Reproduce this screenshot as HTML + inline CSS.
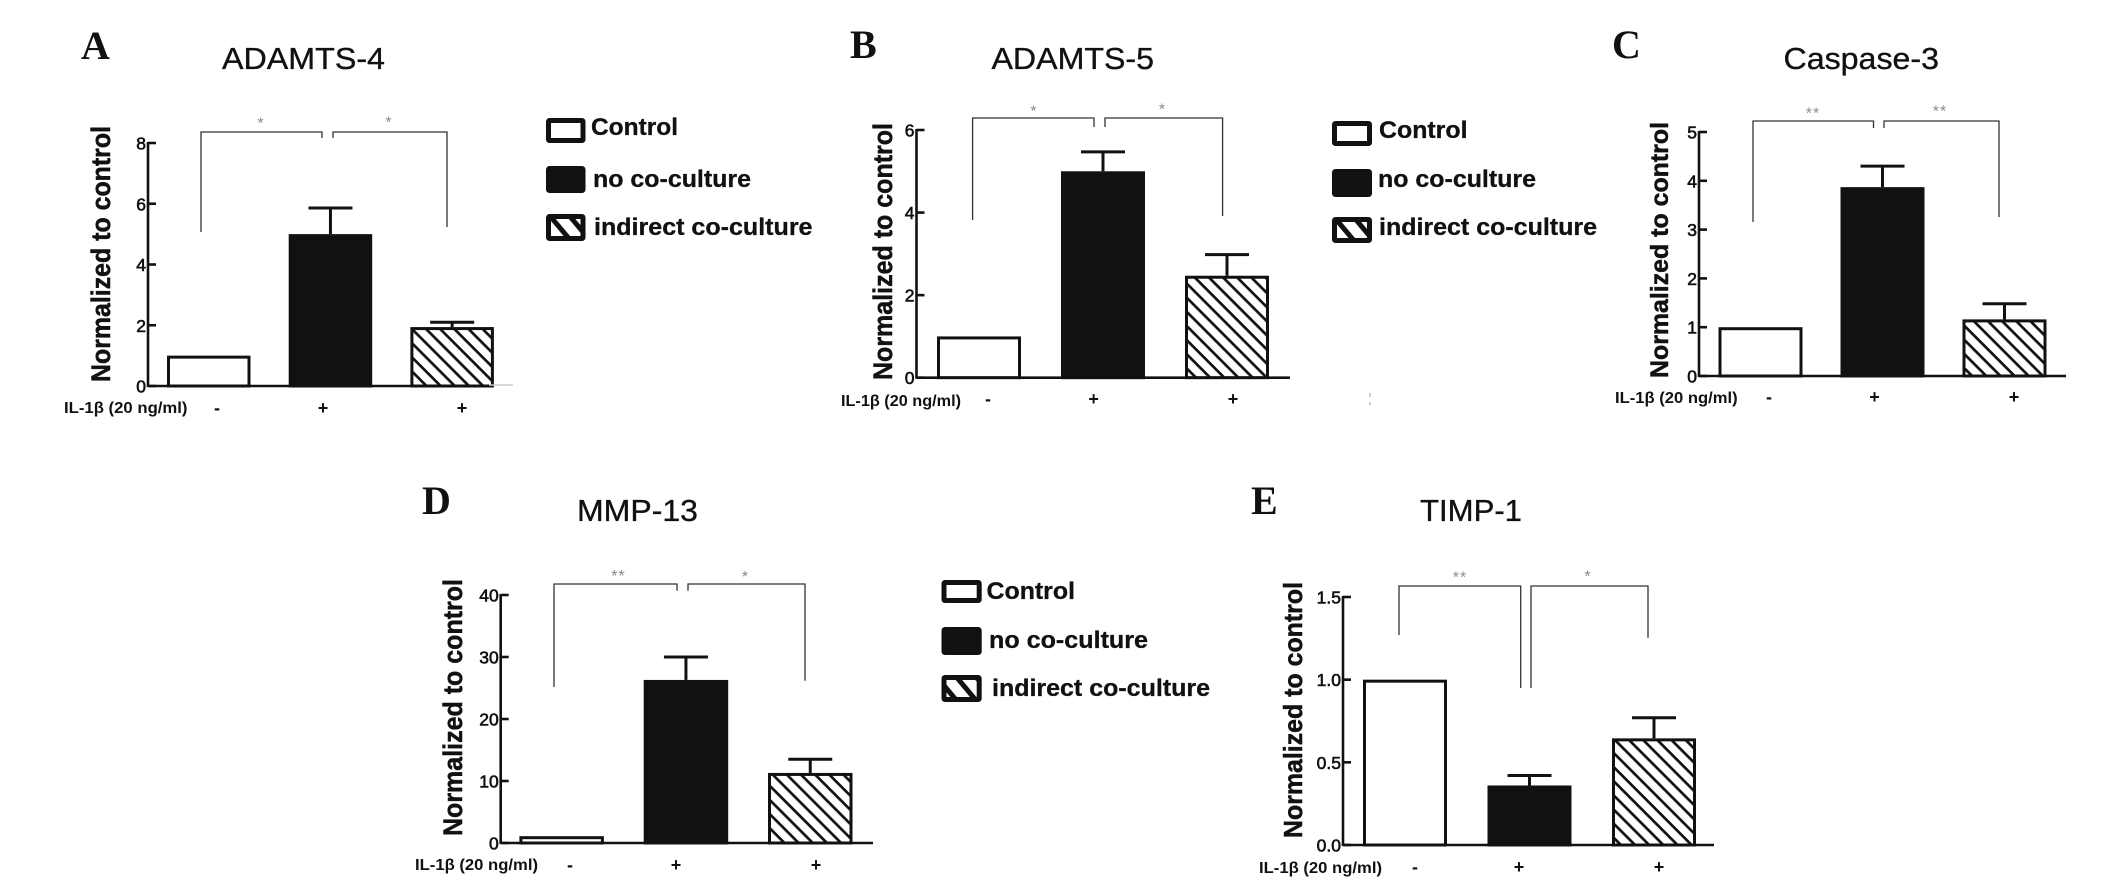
<!DOCTYPE html>
<html lang="en">
<head>
<meta charset="utf-8">
<title>Normalized expression bar charts</title>
<style>
html,body{margin:0;padding:0;background:#fff;}
body{width:2126px;height:889px;overflow:hidden;}
svg{display:block;filter:blur(0.35px);}
text{font-family:"Liberation Sans",sans-serif;fill:#111;}
</style>
</head>
<body>
<svg id="figure" xmlns="http://www.w3.org/2000/svg" width="2126" height="889" viewBox="0 0 2126 889">
<defs>
<pattern id="hatch" width="10" height="10" patternUnits="userSpaceOnUse" patternTransform="rotate(45)">
<rect width="10" height="10" fill="#fff"></rect>
<rect width="10" height="2.7" fill="#111"></rect>
</pattern>
<pattern id="hatch-legend" width="15" height="15" patternUnits="userSpaceOnUse" patternTransform="rotate(50)">
<rect width="15" height="15" fill="#fff"></rect>
<rect width="15" height="5" fill="#111"></rect>
</pattern>
</defs>
<rect width="2126" height="889" fill="#fff"></rect>
</svg>
<script>
// ---- chart data ----
const categories = ['Control', 'no co-culture', 'indirect co-culture'];
const signLabels = ['-', '+', '+'];
const doseLabel = 'IL-1β (20 ng/ml)';
const yAxisTitle = 'Normalized to control';

const adamts4Values = [1.0, 5.0, 1.94];
const adamts4Errors = [0, 0.86, 0.16];
const adamts4Ticks = ['0', '2', '4', '6', '8'];
const adamts4Sig = ['*', '*'];

const adamts5Values = [1.0, 5.0, 2.47];
const adamts5Errors = [0, 0.47, 0.51];
const adamts5Ticks = ['0', '2', '4', '6'];
const adamts5Sig = ['*', '*'];

const caspase3Values = [1.0, 3.87, 1.16];
const caspase3Errors = [0, 0.43, 0.32];
const caspase3Ticks = ['0', '1', '2', '3', '4', '5'];
const caspase3Sig = ['**', '**'];

const mmp13Values = [1.1, 26.3, 11.3];
const mmp13Errors = [0, 3.7, 2.2];
const mmp13Ticks = ['0', '10', '20', '30', '40'];
const mmp13Sig = ['**', '*'];

const timp1Values = [1.0, 0.36, 0.645];
const timp1Errors = [0, 0.06, 0.125];
const timp1Ticks = ['0.0', '0.5', '1.0', '1.5'];
const timp1Sig = ['**', '*'];

// ---- panel layout ----
const panels = [
  {id:'a', letter:'A', title:'ADAMTS-4', values:adamts4Values, errors:adamts4Errors, ticks:adamts4Ticks, sig:adamts4Sig,
   letterAt:{x:81, y:59}, titleBox:{x0:222, x1:385, y:69},
   axis:{x:148, yTop:143, y0:386, xEnd:489},
   band:{start:167, step:121.7, width:83.5},
   yTitle:{x:110, y0:382, y1:126, size:27},
   dose:{x0:64, x1:187.5, y:413}, signs:{x:[217,323,462], y:414},
   brackets:[{x0:201, x1:322, top:132, b0:232, b1:138, starX:261, starY:119},
             {x0:333, x1:447, top:132, b0:138, b1:227, starX:389, starY:118}],
   legend:{x0:546, x1:585.5, rows:[{y0:118,y1:143,tx0:591,tx1:678,base:135},{y0:166,y1:193,tx0:593,tx1:751,base:187},{y0:214,y1:241,tx0:594,tx1:812.5,base:235}]}},
  {id:'b', letter:'B', title:'ADAMTS-5', values:adamts5Values, errors:adamts5Errors, ticks:adamts5Ticks, sig:adamts5Sig,
   letterAt:{x:850, y:58}, titleBox:{x0:991.5, x1:1154, y:69},
   axis:{x:916.5, yTop:130, y0:377.7, xEnd:1290},
   band:{start:937, step:124, width:84},
   yTitle:{x:892, y0:380, y1:123, size:27},
   dose:{x0:841, x1:961, y:406}, signs:{x:[988,1093.6,1233], y:405},
   brackets:[{x0:972.6, x1:1094, top:118, b0:220, b1:127, starX:1034, starY:107},
             {x0:1105, x1:1222.6, top:118, b0:127, b1:216, starX:1162.5, starY:105}],
   legend:{x0:1332, x1:1372, rows:[{y0:121,y1:146,tx0:1379,tx1:1467.5,base:138},{y0:169,y1:197,tx0:1378,tx1:1536,base:187},{y0:217,y1:243,tx0:1379,tx1:1597,base:235}]}},
  {id:'c', letter:'C', title:'Caspase-3', values:caspase3Values, errors:caspase3Errors, ticks:caspase3Ticks, sig:caspase3Sig,
   letterAt:{x:1612, y:58}, titleBox:{x0:1783.5, x1:1939, y:69},
   axis:{x:1699, yTop:132, y0:376, xEnd:2066},
   band:{start:1718.5, step:122, width:84},
   yTitle:{x:1668, y0:378, y1:122, size:25},
   dose:{x0:1615, x1:1737.6, y:403}, signs:{x:[1769,1874.5,2014], y:403},
   brackets:[{x0:1753, x1:1873.5, top:121, b0:222, b1:128, starX:1813, starY:109},
             {x0:1884, x1:1999, top:121, b0:128, b1:217, starX:1940, starY:107}],
   legend:null},
  {id:'d', letter:'D', title:'MMP-13', values:mmp13Values, errors:mmp13Errors, ticks:mmp13Ticks, sig:mmp13Sig,
   letterAt:{x:422, y:514}, titleBox:{x0:577, x1:698, y:521},
   axis:{x:500.7, yTop:595, y0:843, xEnd:873},
   band:{start:519.4, step:124.3, width:84.5},
   yTitle:{x:462, y0:836, y1:579, size:27},
   dose:{x0:415, x1:538, y:870}, signs:{x:[570,676,816], y:871},
   brackets:[{x0:554, x1:677, top:584, b0:687, b1:590.7, starX:618.5, starY:571.7},
             {x0:688, x1:805, top:584, b0:590.7, b1:680.7, starX:745.5, starY:572.7}],
   legend:{x0:941.5, x1:981.7, rows:[{y0:580,y1:603,tx0:986.5,tx1:1075,base:599},{y0:627,y1:655,tx0:989,tx1:1148,base:648},{y0:675,y1:702,tx0:992,tx1:1210,base:696}]}},
  {id:'e', letter:'E', title:'TIMP-1', values:timp1Values, errors:timp1Errors, ticks:timp1Ticks, sig:timp1Sig,
   letterAt:{x:1251, y:514}, titleBox:{x0:1420, x1:1522, y:521},
   axis:{x:1343, yTop:597, y0:845, xEnd:1714},
   band:{start:1363, step:124.5, width:84},
   yTitle:{x:1302, y0:838, y1:582, size:26},
   dose:{x0:1259, x1:1382, y:873}, signs:{x:[1415,1519,1659], y:873},
   brackets:[{x0:1399, x1:1520.7, top:586, b0:635, b1:688, starX:1460, starY:573},
             {x0:1531, x1:1648, top:586, b0:688, b1:637.7, starX:1588, starY:572}],
   legend:null}
];

const NS = 'http://www.w3.org/2000/svg';
const figure = document.getElementById('figure');

function make(parent, tag, attrs, content) {
  const node = document.createElementNS(NS, tag);
  for (const key in attrs) node.setAttribute(key, attrs[key]);
  if (content !== undefined) node.textContent = content;
  parent.appendChild(node);
  return node;
}

function yScaleFor(panel) {
  const max = parseFloat(panel.ticks[panel.ticks.length - 1]);
  return function (v) { return panel.axis.y0 - (v / max) * (panel.axis.y0 - panel.axis.yTop); };
}
function xBandFor(panel) {
  return function (i) { return panel.band.start + i * panel.band.step; };
}

const fills = ['#fff', '#111', 'url(#hatch)'];
const legendFills = ['#fff', '#111', 'url(#hatch-legend)'];

panels.forEach(function (p) {
  const yScale = yScaleFor(p);
  const xBand = xBandFor(p);

  const g = make(figure, 'g', {});
  
  

  const letter = make(g, 'text', {x:p.letterAt.x, y:p.letterAt.y, style:'font-family:"Liberation Serif",serif;font-weight:700;font-size:40px'}, p.letter);
  
  

  const title = make(g, 'text', {x:p.titleBox.x0, y:p.titleBox.y, textLength:p.titleBox.x1 - p.titleBox.x0, lengthAdjust:'spacingAndGlyphs', stroke:'#111', 'stroke-width':0.35, style:'font-size:31px'}, p.title);
  
  

  // bars
  p.values.forEach(function (v, i) {
    const top = yScale(v);
    const bar = make(g, 'rect', {x:xBand(i) + 1.5, y:top + 1.5, width:p.band.width - 3, height:p.axis.y0 - top - 1.5, fill:fills[i], stroke:'#111', 'stroke-width':3});
    
    

    if (p.errors[i] > 0) {
      const cx = xBand(i) + p.band.width / 2;
      const errY = yScale(v + p.errors[i]);
      const stem = make(g, 'line', {x1:cx, x2:cx, y1:top, y2:errY, stroke:'#111', 'stroke-width':3});
      
      
      const cap = make(g, 'line', {x1:cx - 22, x2:cx + 22, y1:errY, y2:errY, stroke:'#111', 'stroke-width':3});
      
      
    }
  });

  // axes
  const yAxis = make(g, 'line', {x1:p.axis.x, x2:p.axis.x, y1:p.axis.yTop - 1, y2:p.axis.y0 + 1, stroke:'#111', 'stroke-width':2.6});
  
  
  const xAxis = make(g, 'line', {x1:p.axis.x, x2:p.axis.xEnd, y1:p.axis.y0, y2:p.axis.y0, stroke:'#111', 'stroke-width':2.6});
  
  

  p.ticks.forEach(function (label) {
    const ty = yScale(parseFloat(label));
    const tick = make(g, 'line', {x1:p.axis.x, x2:p.axis.x + 8, y1:ty, y2:ty, stroke:'#111', 'stroke-width':2.6});
    
    
    const tl = make(g, 'text', {x:p.axis.x - 2, y:ty + 6.5, 'text-anchor':'end', stroke:'#111', 'stroke-width':0.6, style:'font-size:17.5px'}, label);
    
    
  });

  const yt = make(g, 'text', {x:0, y:0, transform:'translate(' + p.yTitle.x + ',' + p.yTitle.y0 + ') rotate(-90)', textLength:p.yTitle.y0 - p.yTitle.y1, lengthAdjust:'spacingAndGlyphs', stroke:'#111', 'stroke-width':0.5, style:'font-weight:700;font-size:' + p.yTitle.size + 'px'}, yAxisTitle);
  
  

  // dose row
  const dose = make(g, 'text', {x:p.dose.x0, y:p.dose.y, textLength:p.dose.x1 - p.dose.x0, lengthAdjust:'spacingAndGlyphs', style:'font-weight:700;font-size:15.5px'}, doseLabel);
  
  
  signLabels.forEach(function (s, i) {
    const sign = make(g, 'text', {x:p.signs.x[i], y:p.signs.y, 'text-anchor':'middle', style:'font-weight:700;font-size:18px'}, s);
    
    
  });

  // significance brackets
  p.brackets.forEach(function (b, i) {
    const path = make(g, 'path', {d:'M' + b.x0 + ' ' + b.b0 + 'V' + b.top + 'H' + b.x1 + 'V' + b.b1, fill:'none', stroke:'#333', 'stroke-width':1.3});
    
    
    const star = make(g, 'text', {x:b.starX, y:b.starY + 9.5, 'text-anchor':'middle', style:'fill:#888;font-size:16px;letter-spacing:1px'}, p.sig[i]);
    
    
  });

  // legend
  if (p.legend) {
    const lg = make(g, 'g', {});
    
    
    p.legend.rows.forEach(function (r, i) {
      const box = make(lg, 'rect', {x:p.legend.x0 + 2.5, y:r.y0 + 2.5, width:p.legend.x1 - p.legend.x0 - 5, height:r.y1 - r.y0 - 5, rx:1, fill:legendFills[i], stroke:'#111', 'stroke-width':5});
      
      
      const txt = make(lg, 'text', {x:r.tx0, y:r.base, textLength:r.tx1 - r.tx0, lengthAdjust:'spacingAndGlyphs', stroke:'#111', 'stroke-width':0.3, style:'font-weight:700;font-size:24px'}, categories[i]);
      
      
    });
  }
});

// small scan artefacts present in the source figure
const faintAxis = make(figure, 'line', {x1:489, x2:513, y1:385, y2:385, stroke:'#ccc', 'stroke-width':1.5});


const specks = make(figure, 'path', {d:'M1370 393v4M1370 402v3', stroke:'#bbb', 'stroke-width':1.5, fill:'none'});


</script>
</body>
</html>
